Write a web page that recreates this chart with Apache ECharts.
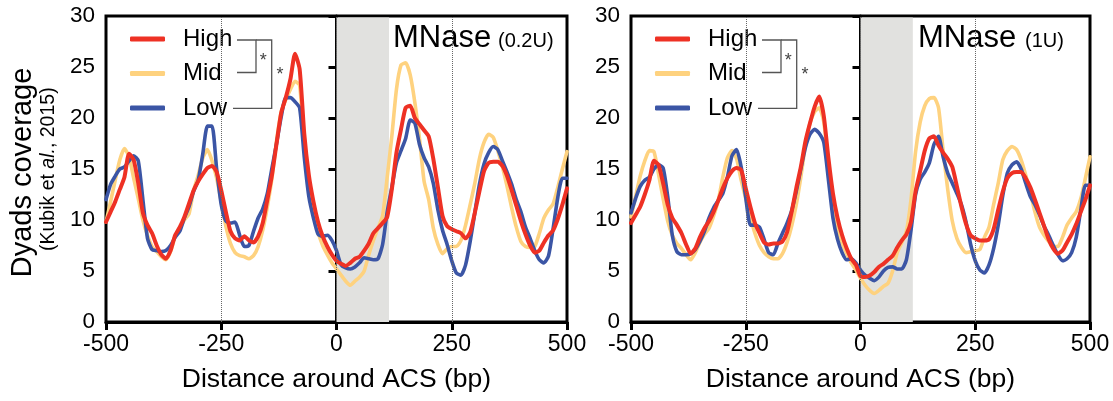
<!DOCTYPE html>
<html>
<head>
<meta charset="utf-8">
<title>Dyads coverage around ACS</title>
<script src="https://cdn.jsdelivr.net/npm/echarts@6/dist/echarts.min.js"></script>
<style>
  html, body { margin: 0; padding: 0; background: #fff; }
  #chart { width: 1113px; height: 401px; }
</style>
</head>
<body>
<div id="chart"></div>
<script>
// Distance from the ACS (bp), one sample every 10 bp
const POSITIONS = [
  -500, -490, -480, -470, -460, -450, -440, -430, -420, -410,
  -400, -390, -380, -370, -360, -350, -340, -330, -320, -310,
  -300, -290, -280, -270, -260, -250, -240, -230, -220, -210,
  -200, -190, -180, -170, -160, -150, -140, -130, -120, -110,
  -100, -90, -80, -70, -60, -50, -40, -30, -20, -10,
  0, 10, 20, 30, 40, 50, 60, 70, 80, 90,
  100, 110, 120, 130, 140, 150, 160, 170, 180, 190,
  200, 210, 220, 230, 240, 250, 260, 270, 280, 290,
  300, 310, 320, 330, 340, 350, 360, 370, 380, 390,
  400, 410, 420, 430, 440, 450, 460, 470, 480, 490,
  500
];

// MNase 0.2U digestion
const HIGH_02U = [
  9.8, 10.8, 11.8, 13.0, 14.2, 16.5, 15.9, 13.6, 10.7, 9.5,
  8.7, 7.5, 6.6, 6.2, 7.0, 8.5, 9.3, 10.3, 11.6, 12.9,
  13.8, 14.5, 15.1, 15.3, 14.7, 12.9, 10.8, 8.9, 8.2, 8.0,
  8.4, 8.0, 7.8, 8.4, 9.7, 12.0, 14.4, 17.5, 20.5, 22.0,
  23.8, 26.3, 24.8, 18.5, 14.4, 11.8, 9.8, 8.4, 7.4, 6.6,
  6.0, 5.7, 5.5, 5.8, 6.2, 6.4, 7.0, 7.7, 8.7, 9.2,
  9.7, 10.3, 13.0, 16.6, 18.9, 21.0, 21.2, 20.0, 19.4, 18.8,
  18.2, 16.0, 13.2, 10.4, 9.4, 9.1, 8.9, 8.7, 8.2, 8.8,
  10.7, 12.8, 14.8, 15.6, 15.7, 15.7, 15.3, 14.3, 12.9, 11.4,
  9.9, 8.6, 7.5, 6.8, 7.0, 7.8, 8.5, 9.0, 10.1, 11.5,
  13.1
];
const MID_02U = [
  9.8, 11.8, 13.9, 15.9, 17.0, 16.2, 14.1, 12.1, 10.0, 8.5,
  7.4, 6.9, 6.4, 6.1, 6.9, 8.4, 9.2, 10.0, 10.6, 12.9,
  14.4, 16.1, 16.9, 15.8, 14.1, 11.8, 9.4, 7.7, 6.8, 6.5,
  6.4, 6.2, 6.5, 7.4, 9.0, 11.3, 14.1, 17.8, 20.6, 21.8,
  22.8, 23.6, 23.2, 17.4, 13.9, 10.5, 8.8, 7.5, 6.6, 5.8,
  5.2, 4.6, 4.0, 3.6, 4.0, 4.4, 5.0, 6.6, 8.0, 9.2,
  10.4, 14.2, 18.2, 22.8, 25.2, 25.4, 24.2, 21.5, 18.0, 13.8,
  12.0, 9.2, 7.6, 6.7, 7.2, 7.4, 7.4, 8.0, 9.5, 11.5,
  13.6, 16.0, 17.6, 18.4, 18.1, 16.8, 15.2, 13.3, 11.2, 9.3,
  7.9, 7.4, 7.3, 7.4, 8.7, 10.2, 11.0, 11.6, 13.2, 15.0,
  16.7
];
const LOW_02U = [
  12.0, 13.5, 14.3, 15.0, 15.2, 15.8, 16.3, 15.8, 12.0, 8.2,
  7.1, 7.0, 6.9, 7.0, 7.5, 8.3, 8.9, 10.2, 11.3, 12.8,
  13.9, 16.5, 19.2, 19.2, 15.0, 11.5, 9.9, 9.7, 9.8, 8.5,
  7.4, 7.5, 8.9, 10.2, 11.1, 12.6, 15.1, 17.5, 20.1, 22.0,
  22.0, 21.6, 21.0, 16.2, 12.3, 10.2, 8.6, 8.4, 8.5, 8.0,
  7.0, 5.6, 5.3, 5.2, 5.4, 5.8, 6.3, 6.2, 6.1, 6.2,
  7.6, 10.8, 13.2, 15.6, 16.8, 18.0, 19.8, 19.5, 17.4, 16.1,
  15.2, 13.6, 11.0, 9.0, 7.6, 6.0, 4.8, 4.6, 5.6, 7.9,
  10.7, 13.5, 15.5, 16.6, 17.2, 16.9, 15.8, 14.7, 13.5, 12.0,
  10.8, 9.3, 8.2, 7.0, 6.1, 5.8, 6.5, 9.2, 12.2, 14.1,
  14.1
];

// MNase 1U digestion
const HIGH_1U = [
  9.7, 10.5, 11.3, 12.5, 13.9, 15.8, 15.4, 13.6, 11.5, 10.2,
  9.5, 8.7, 7.6, 6.7, 7.2, 8.3, 9.2, 9.9, 10.8, 11.9,
  13.1, 14.1, 14.8, 15.1, 14.9, 13.1, 11.3, 9.7, 8.7, 7.8,
  7.6, 7.7, 7.7, 7.9, 8.8, 10.8, 13.1, 15.2, 17.7, 19.5,
  21.1, 22.1, 20.2, 16.1, 12.6, 10.2, 8.5, 7.2, 6.2, 5.6,
  4.5, 4.4, 4.55, 4.9, 5.4, 5.7, 6.1, 6.5, 7.3, 8.0,
  8.6, 9.8, 12.8, 14.8, 16.8, 18.0, 18.2, 17.3, 16.6, 16.0,
  15.2, 13.3, 11.3, 9.6, 8.5, 8.2, 8.0, 8.0, 8.1, 9.1,
  11.0, 12.8, 14.1, 14.6, 14.7, 14.7, 14.1, 13.2, 12.0, 10.7,
  9.4, 8.1, 7.2, 6.7, 7.0, 7.8, 8.6, 9.6, 10.8, 12.0,
  13.4
];
const MID_1U = [
  10.3, 12.3, 14.3, 15.8, 16.8, 16.7, 14.5, 12.1, 9.9, 8.5,
  7.7, 7.2, 6.6, 6.1, 6.8, 7.8, 8.6, 9.2, 10.4, 11.9,
  14.2, 16.1, 16.8, 16.0, 13.9, 12.1, 10.3, 8.7, 7.5, 6.8,
  6.4, 6.2, 6.2, 6.7, 7.8, 9.4, 11.5, 14.2, 17.3, 19.5,
  20.6, 21.0, 19.6, 15.4, 11.9, 9.2, 7.7, 6.7, 5.8, 5.1,
  4.3, 3.6, 3.1, 2.8, 3.1, 3.5, 3.8, 5.0, 6.8, 7.8,
  8.9, 12.0, 16.7, 19.6, 21.2, 21.9, 22.0, 21.0, 16.8, 13.0,
  9.9, 8.2, 7.3, 6.8, 6.9, 7.0, 7.1, 8.3, 9.3, 11.5,
  13.6, 15.9, 16.8, 17.2, 16.9, 15.9, 14.4, 12.7, 10.8, 9.3,
  8.5, 7.9, 7.4, 7.4, 8.3, 9.5, 10.2, 10.8, 12.1, 14.1,
  16.2
];
const LOW_1U = [
  10.7, 12.1, 13.3, 13.9, 14.2, 15.0, 15.4, 15.1, 12.3, 8.5,
  6.9, 6.6, 6.6, 6.7, 7.1, 7.9, 8.9, 10.2, 11.2, 11.9,
  12.6, 14.2, 16.3, 16.9, 15.2, 12.2, 9.5, 9.5, 9.3, 8.1,
  6.8, 6.6, 7.7, 8.7, 9.7, 10.9, 12.8, 15.0, 17.1, 18.4,
  18.9, 18.5, 17.6, 14.0, 10.2, 8.1, 6.8, 6.1, 6.2, 5.8,
  5.1, 4.6, 4.3, 4.05, 4.4, 5.0, 5.35, 5.4, 5.2, 5.2,
  6.1, 9.0, 12.5, 14.0, 14.7, 15.6, 17.4, 18.2, 16.2, 14.6,
  13.6, 12.6, 11.5, 9.8, 7.6, 6.0, 5.1, 4.8, 5.6, 7.2,
  9.5, 12.4, 14.6, 15.4, 15.7, 15.0, 13.6, 12.3, 11.5, 10.5,
  9.4, 8.5, 7.5, 6.6, 6.0, 6.2, 6.8, 8.3, 11.0, 13.4,
  13.4
];

const GROUPS = ['High', 'Mid', 'Low'];
const PANEL_TITLES = ['MNase', 'MNase'];
const PANEL_UNITS = ['(0.2U)', '(1U)'];
const X_TICKS = [-500, -250, 0, 250, 500];
const Y_TICKS = [0, 5, 10, 15, 20, 25, 30];
const GUIDE_LINES = [-250, 0, 250];
const ACS_SHADE = [0, 114];

const COLORS = { High: '#ee3124', Mid: '#fed27f', Low: '#3b55a5' };
const WIDTHS = { High: 4, Mid: 3.6, Low: 3.6 };
const FONT = '"Liberation Sans", Arial, Helvetica, sans-serif';

const PANELS = [
  { High: HIGH_02U, Mid: MID_02U, Low: LOW_02U },
  { High: HIGH_1U, Mid: MID_1U, Low: LOW_1U }
];

const GRID_LEFT = [106, 631];

function pairs(values) {
  return POSITIONS.map((x, i) => [x, values[i]]);
}

function xAxisFor(idx) {
  return {
    gridIndex: idx,
    type: 'value',
    min: X_TICKS[0],
    max: X_TICKS[X_TICKS.length - 1],
    interval: X_TICKS[1] - X_TICKS[0],
    name: 'Distance around ACS (bp)',
    nameLocation: 'middle',
    nameGap: 44,
    nameTextStyle: { fontSize: 26.5, color: '#000', fontFamily: FONT },
    axisLine: { lineStyle: { color: '#000', width: 3 } },
    axisTick: { length: 8, lineStyle: { color: '#000', width: 3 } },
    axisLabel: { fontSize: 23, color: '#000', margin: 11, fontFamily: FONT },
    splitLine: { show: false }
  };
}

function yAxisFor(idx) {
  return {
    gridIndex: idx,
    type: 'value',
    min: Y_TICKS[0],
    max: Y_TICKS[Y_TICKS.length - 1],
    interval: Y_TICKS[1] - Y_TICKS[0],
    axisLine: { show: true, lineStyle: { color: '#000', width: 3 } },
    axisTick: { show: true, length: 8, lineStyle: { color: '#000', width: 3 } },
    axisLabel: { fontSize: 22.5, color: '#000', margin: 11, fontFamily: FONT },
    splitLine: { show: false }
  };
}

const series = [];
PANELS.forEach((panel, idx) => {
  // shaded ACS region and dotted guides, kept underneath the profiles
  series.push({
    type: 'line',
    name: 'guides-' + idx,
    xAxisIndex: idx,
    yAxisIndex: idx,
    data: [],
    z: 1,
    silent: true,
    markArea: {
      silent: true,
      itemStyle: { color: '#e1e1df' },
      data: [[{ xAxis: ACS_SHADE[0], yAxis: -0.3 }, { xAxis: ACS_SHADE[1], yAxis: 29.85 }]]
    },
    markLine: {
      silent: true,
      symbol: ['none', 'none'],
      label: { show: false },
      lineStyle: { type: 'dotted', color: '#666', width: 1 },
      data: GUIDE_LINES.map(v => ({ xAxis: v }))
    }
  });
  ['Mid', 'Low', 'High'].forEach(g => {
    series.push({
      type: 'line',
      name: g,
      xAxisIndex: idx,
      yAxisIndex: idx,
      data: pairs(panel[g]),
      showSymbol: false,
      symbol: 'none',
      smooth: 0.2,
      z: 3,
      color: COLORS[g],
      itemStyle: { color: COLORS[g] },
      lineStyle: { color: COLORS[g], width: WIDTHS[g], cap: 'round', join: 'round' }
    });
  });
});

function legendFor(idx) {
  return {
    orient: 'vertical',
    left: GRID_LEFT[idx] + 24,
    top: 27,
    padding: 0,
    data: GROUPS,
    icon: 'roundRect',
    itemWidth: 35,
    itemHeight: 5,
    itemGap: 10.5,
    selectedMode: false,
    formatter: name => '{g|}' + name,
    textStyle: {
      fontSize: 24,
      lineHeight: 24,
      color: '#000',
      fontFamily: FONT,
      rich: { g: { width: 13 } }
    }
  };
}

// significance brackets next to the legend
function brackets(dx) {
  const stroke = { stroke: '#555', lineWidth: 1.3, fill: null };
  return [
    { type: 'polyline', silent: true, shape: { points: [[237 + dx, 40], [256 + dx, 40], [256 + dx, 72.5], [237 + dx, 72.5]] }, style: stroke },
    { type: 'polyline', silent: true, shape: { points: [[256 + dx, 40], [271.7 + dx, 40], [271.7 + dx, 108.3], [233 + dx, 108.3]] }, style: stroke },
    { type: 'text', silent: true, x: 263.3 + dx, y: 61, style: { text: '*', font: '18px ' + FONT, fill: '#444', align: 'center', verticalAlign: 'middle' } },
    { type: 'text', silent: true, x: 280 + dx, y: 75.5, style: { text: '*', font: '18px ' + FONT, fill: '#444', align: 'center', verticalAlign: 'middle' } }
  ];
}

function panelTitle(idx) {
  const x0 = GRID_LEFT[idx] + 287;
  return [
    { type: 'text', silent: true, x: x0, y: 38.4, style: { text: PANEL_TITLES[idx], font: '31px ' + FONT, fill: '#000', align: 'left', verticalAlign: 'middle' } },
    { type: 'text', silent: true, x: x0 + (idx === 0 ? 105 : 107), y: 41.8, style: { text: PANEL_UNITS[idx], font: '20px ' + FONT, fill: '#000', align: 'left', verticalAlign: 'middle' } }
  ];
}

const graphic = [
  { type: 'text', silent: true, x: 22.6, y: 172.5, rotation: Math.PI / 2,
    style: { text: 'Dyads coverage', font: '29px ' + FONT, fill: '#000', align: 'center', verticalAlign: 'middle' } },
  { type: 'text', silent: true, x: 49, y: 169.2, rotation: Math.PI / 2,
    style: {
      text: '{n|(Kubik et }{i|al.}{n|, 2015)}',
      align: 'center', verticalAlign: 'middle',
      rich: {
        n: { fontSize: 19.5, fontFamily: FONT, fill: '#000', color: '#000' },
        i: { fontSize: 19.5, fontFamily: FONT, fontStyle: 'italic', fill: '#000', color: '#000' }
      }
    } }
].concat(brackets(0), brackets(525), panelTitle(0), panelTitle(1));

const chart = echarts.init(document.getElementById('chart'), null, { renderer: 'canvas' });
chart.setOption({
  animation: false,
  backgroundColor: '#fff',
  textStyle: { fontFamily: FONT },
  grid: [
    { left: GRID_LEFT[0], right: 546, top: 16, bottom: 79, show: true, borderColor: '#000', borderWidth: 3, backgroundColor: 'transparent' },
    { left: GRID_LEFT[1], right: 23, top: 16, bottom: 79, show: true, borderColor: '#000', borderWidth: 3, backgroundColor: 'transparent' }
  ],
  xAxis: [xAxisFor(0), xAxisFor(1)],
  yAxis: [yAxisFor(0), yAxisFor(1)],
  legend: [legendFor(0), legendFor(1)],
  series: series,
  graphic: graphic
});
</script>
</body>
</html>
